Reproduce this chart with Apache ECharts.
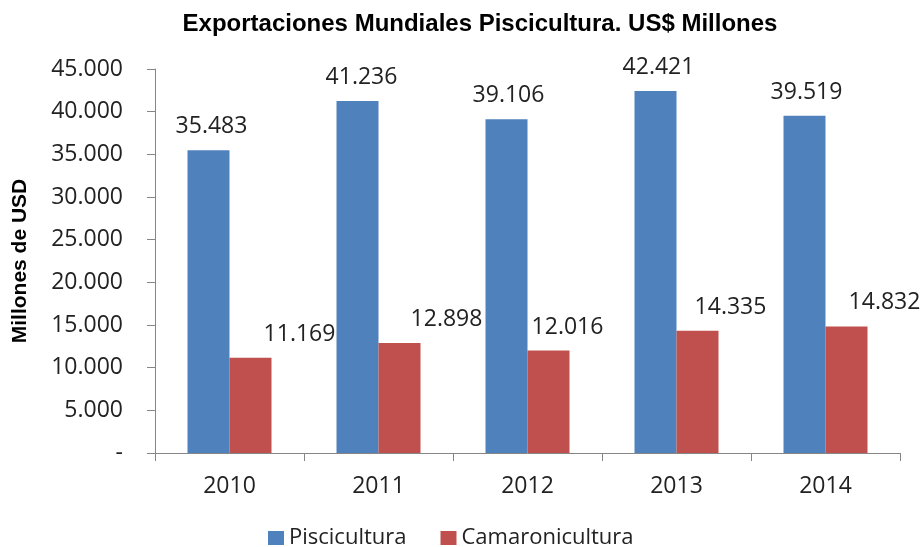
<!DOCTYPE html>
<html>
<head>
<meta charset="utf-8">
<script src="https://cdn.jsdelivr.net/npm/echarts@6/dist/echarts.min.js"></script>
<style>
  html, body { margin: 0; padding: 0; background: #fff; }
  #chart { width: 923px; height: 547px; }
</style>
</head>
<body>
<div id="chart"></div>
<script>
// datos
const years = ["2010", "2011", "2012", "2013", "2014"];
const piscicultura = [35483, 41236, 39106, 42421, 39519];
const camaronicultura = [11169, 12898, 12016, 14335, 14832];

// desplazamiento horizontal de etiquetas (Excel las corre a un lado)
const pisciLabelShift = [3, 4, 2, 3, 2];
const camaronLabelShift = [49, 47, 19, 33, 38];

const fmt = (v) => {
  if (v === 0) return "-";
  return String(v).replace(/\B(?=(\d{3})+(?!\d))/g, ".");
};

const labelFont = "'Open Sans', 'DejaVu Sans', sans-serif";
const boldFont = "'Liberation Sans', Arial, sans-serif";

const chart = echarts.init(document.getElementById("chart"));

const barLabel = {
  show: true,
  position: "top",
  distance: 12,
  formatter: (p) => fmt(p.value),
  fontFamily: labelFont,
  fontSize: 23,
  color: "#222",
};

const option = {
  animation: false,
  title: {
    text: "Exportaciones Mundiales Piscicultura. US$ Millones",
    left: 475,
    textAlign: "center",
    top: 7,
    textStyle: {
      fontFamily: boldFont,
      fontWeight: "bold",
      fontSize: 24,
      color: "#000",
    },
  },
  legend: {
    top: 522,
    left: 263,
    itemWidth: 16,
    itemHeight: 14,
    itemGap: 34,
    icon: "rect",
    textStyle: { fontFamily: labelFont, fontSize: 22, color: "#222" },
    data: ["Piscicultura", "Camaronicultura"],
  },
  grid: { left: 155, right: 23, top: 69, bottom: 94 },
  xAxis: {
    type: "category",
    data: years,
    axisLine: { lineStyle: { color: "#868686" } },
    axisTick: { show: true, length: 8, lineStyle: { color: "#868686" } },
    axisLabel: { fontFamily: labelFont, fontSize: 23, color: "#222", margin: 22 },
  },
  yAxis: {
    type: "value",
    min: 0,
    max: 45000,
    interval: 5000,
    name: "Millones de USD",
    nameLocation: "middle",
    nameGap: 124,
    nameTextStyle: {
      fontFamily: boldFont,
      fontWeight: "bold",
      fontSize: 21,
      color: "#000",
    },
    axisLine: { show: true, lineStyle: { color: "#868686" } },
    axisTick: { show: true, length: 8, lineStyle: { color: "#868686" } },
    splitLine: { show: false },
    axisLabel: {
      formatter: fmt,
      fontFamily: labelFont,
      fontSize: 23,
      color: "#222",
      margin: 32,
    },
  },
  series: [
    {
      name: "Piscicultura",
      type: "bar",
      barWidth: 42,
      barGap: "0%",
      itemStyle: { color: "#4F81BD" },
      data: piscicultura.map((v, i) => ({
        value: v,
        label: { offset: [pisciLabelShift[i], 0] },
      })),
      label: barLabel,
    },
    {
      name: "Camaronicultura",
      type: "bar",
      barWidth: 42,
      barGap: "0%",
      itemStyle: { color: "#C0504D" },
      data: camaronicultura.map((v, i) => ({
        value: v,
        label: { offset: [camaronLabelShift[i], 0] },
      })),
      label: barLabel,
    },
  ],
};

chart.setOption(option);
</script>
</body>
</html>
